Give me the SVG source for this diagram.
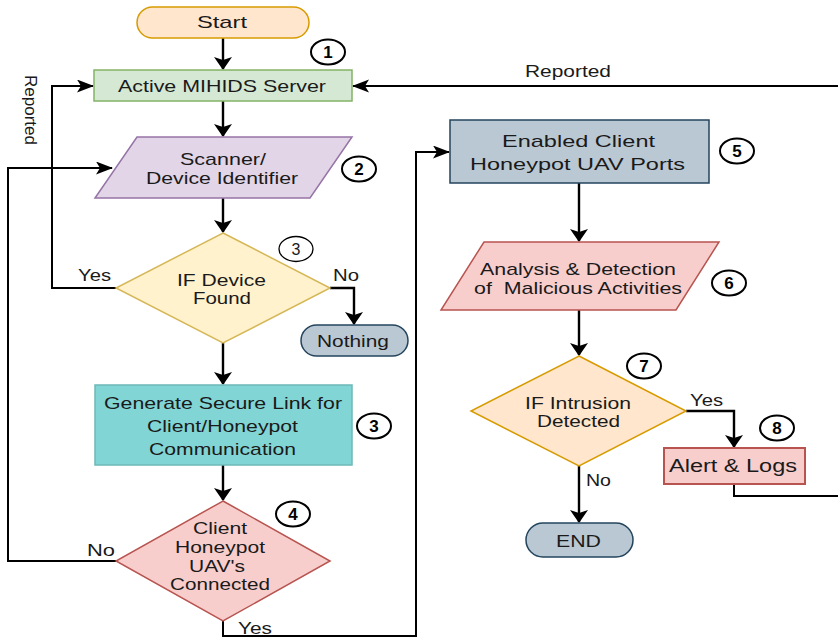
<svg xmlns="http://www.w3.org/2000/svg" width="838" height="640" viewBox="0 0 838 640">
<defs>
<marker id="av" markerWidth="14" markerHeight="20" refX="12" refY="9" orient="auto" markerUnits="userSpaceOnUse">
<path d="M0,0 L13,9 L0,18 L3,9 Z" fill="#000"/>
</marker>
<marker id="ah" markerWidth="18" markerHeight="14" refX="16" refY="6.5" orient="auto" markerUnits="userSpaceOnUse">
<path d="M0,0 L17,6.5 L0,13 L4,6.5 Z" fill="#000"/>
</marker>
</defs>
<style>
text{font-family:"Liberation Sans",Arial,sans-serif;font-size:17px;fill:#1a1a1a;text-anchor:middle;dominant-baseline:central}
.num{font-weight:bold;font-size:17px;fill:#000}
.nc{fill:#fff;stroke:#000;stroke-width:2}
.nct{fill:#fff;stroke:#000;stroke-width:1.3}
.c{fill:none;stroke:#000;stroke-width:2}
.cv{fill:none;stroke:#000;stroke-width:2.4;marker-end:url(#av)}
.ch{fill:none;stroke:#000;stroke-width:2;marker-end:url(#ah)}
</style>
<rect width="838" height="640" fill="#fff"/>
<g id="connectors">
<path class="cv" d="M223,38 V69"/>
<path class="cv" d="M223,101 V136"/>
<path class="cv" d="M223,198 V232"/>
<path class="cv" d="M223,343 V384"/>
<path class="cv" d="M223,465 V500"/>
<path class="ch" d="M116,288 H52 V86 H93"/>
<path class="cv" d="M330,288 H354 V324"/>
<path class="ch" d="M116,561 H8 V168 H112"/>
<path class="ch" d="M223,621 V636 H416 V152 H449"/>
<path class="cv" d="M579,183 V241"/>
<path class="cv" d="M579,310 V355"/>
<path class="cv" d="M686,411 H734 V447"/>
<path class="cv" d="M579,466 V522"/>
<path class="c" d="M734,484 V496 H840"/>
<path class="ch" d="M840,86 H353"/>
<text x="568" y="71" textLength="86" lengthAdjust="spacingAndGlyphs">Reported</text>
<text x="0" y="0" transform="translate(30,110) rotate(90)">Reported</text>
<text x="94.5" y="275" textLength="33" lengthAdjust="spacingAndGlyphs">Yes</text>
<text x="346" y="275" textLength="26" lengthAdjust="spacingAndGlyphs">No</text>
<text x="101" y="550" textLength="28" lengthAdjust="spacingAndGlyphs">No</text>
<text x="255" y="628" textLength="34" lengthAdjust="spacingAndGlyphs">Yes</text>
<text x="706.5" y="400" textLength="33" lengthAdjust="spacingAndGlyphs">Yes</text>
<text x="598.5" y="480" textLength="25" lengthAdjust="spacingAndGlyphs">No</text>
</g>
<g id="start">
<rect x="137" y="7" width="172" height="31" rx="15.5" fill="#ffe6cc" stroke="#d79b00" stroke-width="1.5"/>
<text x="222" y="22.5" textLength="50" lengthAdjust="spacingAndGlyphs">Start</text>
</g>
<g id="server">
<rect x="94" y="70" width="258" height="31" fill="#d5e8d4" stroke="#82b366" stroke-width="1.5"/>
<text x="222" y="86" textLength="208" lengthAdjust="spacingAndGlyphs">Active MIHIDS Server</text>
<ellipse class="nc" cx="328" cy="52" rx="17" ry="12.5"/><text class="num" x="328" y="52.5">1</text>
</g>
<g id="scanner">
<polygon points="137,137 352,137 310,198 95,198" fill="#e1d5e7" stroke="#9673a6" stroke-width="1.5"/>
<text x="223" y="159" textLength="86" lengthAdjust="spacingAndGlyphs">Scanner/</text>
<text x="222" y="178" textLength="152" lengthAdjust="spacingAndGlyphs">Device Identifier</text>
<ellipse class="nc" cx="359" cy="169" rx="17" ry="12.5"/><text class="num" x="359" y="169.5">2</text>
</g>
<g id="device-found">
<polygon points="223,233 330,288 223,343 116,288" fill="#fff2cc" stroke="#d6b656" stroke-width="1.5"/>
<text x="221.5" y="280" textLength="89" lengthAdjust="spacingAndGlyphs">IF Device</text>
<text x="222" y="298" textLength="58" lengthAdjust="spacingAndGlyphs">Found</text>
<ellipse class="nct" cx="296" cy="249" rx="17" ry="12.5"/><text x="296" y="249.5" style="font-size:16px">3</text>
</g>
<g id="nothing">
<rect x="301" y="325" width="107" height="31" rx="15.5" fill="#bac8d3" stroke="#23445d" stroke-width="1.5"/>
<text x="353" y="341" textLength="72" lengthAdjust="spacingAndGlyphs">Nothing</text>
</g>
<g id="secure-link">
<rect x="95" y="385" width="257" height="80" fill="#82d5d5" stroke="#6db8b8" stroke-width="1.5"/>
<text x="223" y="403" textLength="238" lengthAdjust="spacingAndGlyphs">Generate Secure Link for</text>
<text x="222.5" y="426" textLength="151" lengthAdjust="spacingAndGlyphs">Client/Honeypot</text>
<text x="222.5" y="449" textLength="147" lengthAdjust="spacingAndGlyphs">Communication</text>
<ellipse class="nc" cx="374" cy="426" rx="17" ry="12.5"/><text class="num" x="374" y="426.5">3</text>
</g>
<g id="connected">
<polygon points="223,501 330,561 223,621 116,561" fill="#f8cecc" stroke="#b85450" stroke-width="1.5"/>
<text x="220" y="528" textLength="54" lengthAdjust="spacingAndGlyphs">Client</text>
<text x="220" y="547" textLength="90" lengthAdjust="spacingAndGlyphs">Honeypot</text>
<text x="217" y="566" textLength="56" lengthAdjust="spacingAndGlyphs">UAV's</text>
<text x="220" y="584" textLength="100" lengthAdjust="spacingAndGlyphs">Connected</text>
<ellipse class="nc" cx="293" cy="514" rx="17" ry="12.5"/><text class="num" x="293" y="514.5">4</text>
</g>
<g id="ports">
<rect x="450" y="120" width="259" height="63" fill="#bac8d3" stroke="#23445d" stroke-width="1.5"/>
<text x="578.5" y="141" textLength="153" lengthAdjust="spacingAndGlyphs">Enabled Client</text>
<text x="577.5" y="164" textLength="215" lengthAdjust="spacingAndGlyphs">Honeypot UAV Ports</text>
<ellipse class="nc" cx="737" cy="151" rx="17" ry="12.5"/><text class="num" x="737" y="151.5">5</text>
</g>
<g id="analysis">
<polygon points="484,242 719,242 676,310 441,310" fill="#f8cecc" stroke="#b85450" stroke-width="1.5"/>
<text x="578" y="269" textLength="196" lengthAdjust="spacingAndGlyphs">Analysis &amp; Detection</text>
<text x="578" y="288" xml:space="preserve" textLength="208" lengthAdjust="spacingAndGlyphs">of  Malicious Activities</text>
<ellipse class="nc" cx="729" cy="283" rx="17" ry="12.5"/><text class="num" x="729" y="283.5">6</text>
</g>
<g id="intrusion">
<polygon points="579,356 686,411 579,466 471,411" fill="#ffe6cc" stroke="#d79b00" stroke-width="1.5"/>
<text x="578" y="403" textLength="106" lengthAdjust="spacingAndGlyphs">IF Intrusion</text>
<text x="578.5" y="421" textLength="83" lengthAdjust="spacingAndGlyphs">Detected</text>
<ellipse class="nc" cx="644" cy="366" rx="17" ry="12.5"/><text class="num" x="644" y="366.5">7</text>
</g>
<g id="alert">
<rect x="664" y="448" width="141" height="36" fill="#f8cecc" stroke="#b85450" stroke-width="2"/>
<text x="733" y="466" style="font-size:18px" textLength="128" lengthAdjust="spacingAndGlyphs">Alert &amp; Logs</text>
<ellipse class="nc" cx="777" cy="428" rx="17" ry="12.5"/><text class="num" x="777" y="428.5">8</text>
</g>
<g id="end">
<rect x="526" y="523" width="107" height="34" rx="17" fill="#bac8d3" stroke="#23445d" stroke-width="1.5"/>
<text x="578.5" y="541" textLength="45" lengthAdjust="spacingAndGlyphs">END</text>
</g>
</svg>
